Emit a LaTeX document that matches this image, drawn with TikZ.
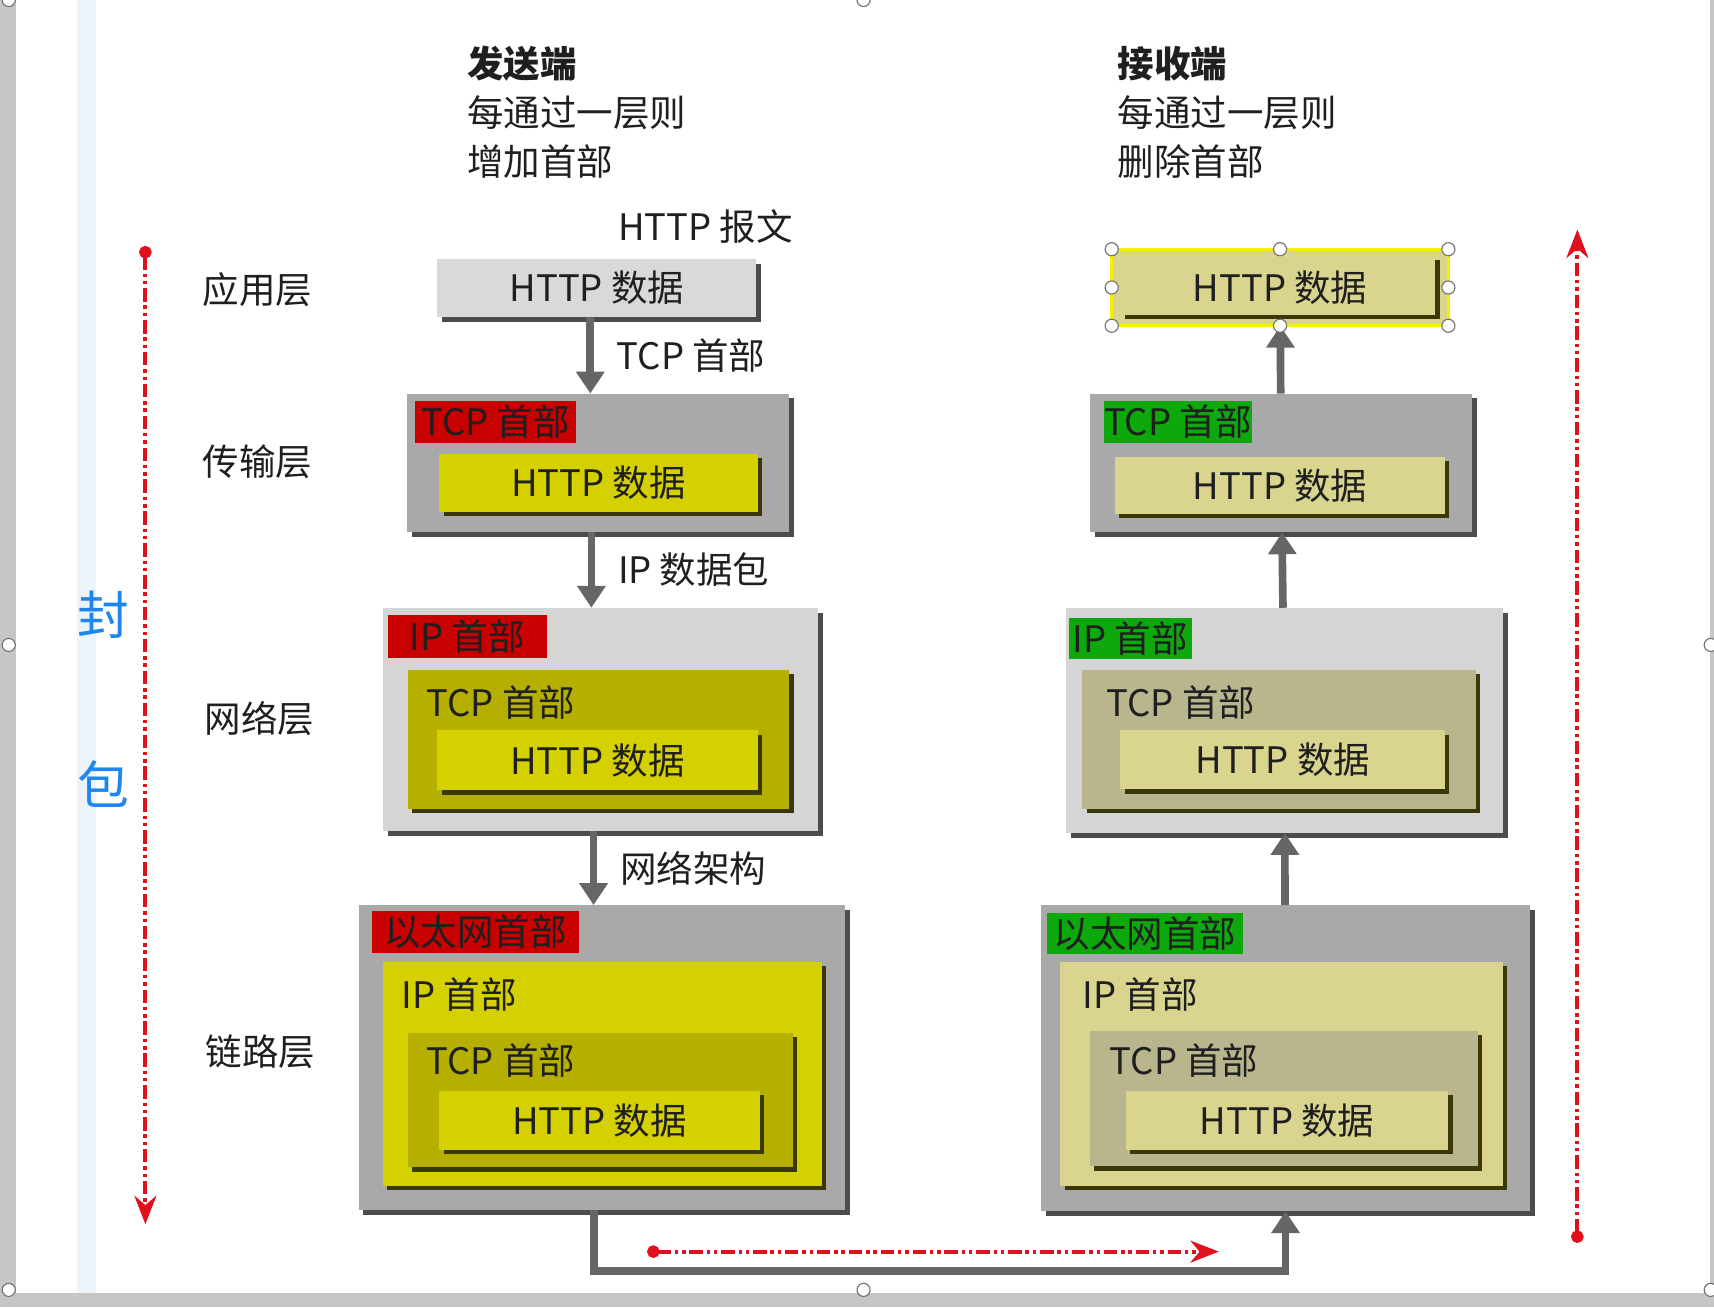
\documentclass[tikz,border=0pt]{standalone}
\usepackage{fontspec}
\setmainfont{Noto Sans CJK SC}
\usepackage{xcolor}
\usetikzlibrary{arrows.meta, shadows}

\definecolor{scrgray}{HTML}{C6C6C6}
\definecolor{scrblue}{HTML}{EDF3FA}
\definecolor{boxgray}{HTML}{A9A9A9}
\definecolor{boxlight}{HTML}{D5D5D5}
\definecolor{hdrred}{HTML}{C80000}
\definecolor{hdrgreen}{HTML}{0CA80C}
\definecolor{sndyel}{HTML}{D5D100}
\definecolor{sndolive}{HTML}{B5AF00}
\definecolor{rcvkhaki}{HTML}{D9D58F}
\definecolor{rcvdark}{HTML}{B9B68E}
\definecolor{selyel}{HTML}{F4F000}
\definecolor{shdgray}{HTML}{4C4C4C}
\definecolor{shdolive}{HTML}{3A3808}
\definecolor{encred}{HTML}{E0101C}
\definecolor{encblue}{HTML}{1E86EE}

\begin{document}
\begin{tikzpicture}[x=0.02cm, y=-0.02cm,
  font=\fontsize{19pt}{23pt}\selectfont, text=black!88,
  blk/.style={anchor=north west, inner sep=0pt, outer sep=0pt},
  gshd/.style={drop shadow={shadow xshift=0.09cm, shadow yshift=-0.09cm, fill=shdgray, opacity=1}},
  oshd/.style={drop shadow={shadow xshift=0.08cm, shadow yshift=-0.08cm, fill=shdolive, opacity=1}},
  outg/.style={blk, fill=boxgray, gshd},
  outl/.style={blk, fill=boxlight, gshd},
  redh/.style={blk, fill=hdrred},
  grnh/.style={blk, fill=hdrgreen},
  yel/.style={blk, fill=sndyel, oshd},
  olv/.style={blk, fill=sndolive, oshd},
  khk/.style={blk, fill=rcvkhaki, oshd},
  khd/.style={blk, fill=rcvdark, oshd},
  lbl/.style={anchor=west, inner sep=0pt},
  hdr/.style={anchor=west, inner sep=0pt, font=\fontsize{19pt}{23pt}\selectfont\bfseries},
  enc/.style={text=encblue, font=\fontsize{27pt}{30pt}\selectfont},
  flow/.style={line width=0.14cm, draw=black!60, -{Triangle[width=0.5cm, length=0.4cm]}},
  eflow/.style={line width=2.2pt, draw=encred,
    dash pattern=on 7pt off 2pt on 1.8pt off 2pt on 1.8pt off 2pt,
    {Circle[length=6.5pt]}-{Stealth[length=0.52cm, width=0.4cm]}},
  handle/.style={draw=black!55, fill=white, line width=0.6pt}]
  \useasboundingbox (0,0) rectangle (1568,1196);
  % screenshot frame
  \fill[scrgray] (0,0) rectangle (15,1196);
  \fill[scrblue] (70,0) rectangle (88,1183);
  \fill[scrgray] (0,1183) rectangle (1568,1196);
  \fill[scrgray] (1564,0) rectangle (1568,1196);

  % headings
  \node[hdr] (snd-t)  at (427,58)  {发送端};
  \node[lbl] (snd-t1) at (427,103) {每通过一层则};
  \node[lbl] (snd-t2) at (427,148) {增加首部};
  \node[hdr] (rcv-t)  at (1022,58)  {接收端};
  \node[lbl] (rcv-t1) at (1022,103) {每通过一层则};
  \node[lbl] (rcv-t2) at (1022,148) {删除首部};
  \node[lbl] (msg)    at (565,207)  {HTTP 报文};

  % layer names
  \node[lbl] (l-app) at (185,265) {应用层};
  \node[lbl] (l-tcp) at (185,422) {传输层};
  \node[lbl] (l-ip)  at (187,657) {网络层};
  \node[lbl] (l-eth) at (188,962) {链路层};

  % sender column
  \node[outl, minimum width=292*0.02cm, minimum height=53*0.02cm, fill=black!15] (s-app) at (400,237) {};
  \node at (s-app.center) (s-app-t) {HTTP 数据};

  \node[outg, minimum width=350*0.02cm, minimum height=127*0.02cm] (s-tcp) at (372,360) {};
  \node[redh, minimum width=147*0.02cm, minimum height=38*0.02cm] (s-tcph) at (380,367) {TCP 首部};
  \node[yel, minimum width=291*0.02cm, minimum height=53*0.02cm] (s-tcpd) at (402,415) {HTTP 数据};

  \node[outl, minimum width=398*0.02cm, minimum height=204*0.02cm] (s-ip) at (350,556) {};
  \node[redh, minimum width=145*0.02cm, minimum height=39*0.02cm] (s-iph) at (355,563) {IP 首部};
  \node[olv, minimum width=349*0.02cm, minimum height=127*0.02cm] (s-ipt) at (373,613) {};
  \node[lbl] (s-ipt-l) at (390,643) {TCP 首部};
  \node[yel, minimum width=293*0.02cm, minimum height=55*0.02cm] (s-ipd) at (400,668) {HTTP 数据};

  \node[outg, minimum width=445*0.02cm, minimum height=279*0.02cm] (s-eth) at (328,828) {};
  \node[redh, minimum width=190*0.02cm, minimum height=39*0.02cm] (s-ethh) at (340,833) {以太网首部};
  \node[yel, minimum width=402*0.02cm, minimum height=205*0.02cm] (s-ethi) at (350,880) {};
  \node[lbl] (s-ethi-l) at (367,910) {IP 首部};
  \node[olv, minimum width=352*0.02cm, minimum height=123*0.02cm] (s-etht) at (373,945) {};
  \node[lbl] (s-etht-l) at (390,970) {TCP 首部};
  \node[yel, minimum width=293*0.02cm, minimum height=54*0.02cm] (s-ethd) at (402,998) {HTTP 数据};

  % receiver column
  \node[blk, fill=rcvkhaki, draw=selyel, line width=1.5pt, minimum width=308*0.02cm, minimum height=70*0.02cm] (r-app) at (1017,228) {};
  \node at (r-app.center) (r-app-t) {HTTP 数据};
  \draw[line width=0.09cm, shdolive] ([shift={(-10,10)}]r-app.north east) -- ([shift={(-10,-8)}]r-app.south east) -- ([shift={(12,-8)}]r-app.south west);

  \node[outg, minimum width=350*0.02cm, minimum height=127*0.02cm] (r-tcp) at (997,360) {};
  \node[grnh, minimum width=135*0.02cm, minimum height=38*0.02cm] (r-tcph) at (1010,367) {TCP 首部};
  \node[khk, minimum width=302*0.02cm, minimum height=52*0.02cm] (r-tcpd) at (1020,418) {HTTP 数据};

  \node[outl, minimum width=400*0.02cm, minimum height=206*0.02cm] (r-ip) at (975,556) {};
  \node[grnh, minimum width=112*0.02cm, minimum height=38*0.02cm] (r-iph) at (978,565) {IP 首部};
  \node[khd, minimum width=360*0.02cm, minimum height=127*0.02cm] (r-ipt) at (990,613) {};
  \node[lbl] (r-ipt-l) at (1012,643) {TCP 首部};
  \node[khk, minimum width=297*0.02cm, minimum height=54*0.02cm] (r-ipd) at (1025,668) {HTTP 数据};

  \node[outg, minimum width=448*0.02cm, minimum height=280*0.02cm] (r-eth) at (952,828) {};
  \node[grnh, minimum width=179*0.02cm, minimum height=38*0.02cm] (r-ethh) at (958,835) {以太网首部};
  \node[khk, minimum width=405*0.02cm, minimum height=205*0.02cm] (r-ethi) at (970,880) {};
  \node[lbl] (r-ethi-l) at (990,910) {IP 首部};
  \node[khd, minimum width=355*0.02cm, minimum height=124*0.02cm] (r-etht) at (997,943) {};
  \node[lbl] (r-etht-l) at (1015,970) {TCP 首部};
  \node[khk, minimum width=295*0.02cm, minimum height=54*0.02cm] (r-ethd) at (1030,998) {HTTP 数据};

  % data flow down / up
  \draw[flow] ([xshift=-0.12cm]s-app.south) -- node[right=0.3cm] (a1) {TCP 首部} ([xshift=-0.12cm]s-app.south |- s-tcp.north);
  \draw[flow] ([xshift=-0.12cm]s-tcp.south) -- node[right=0.3cm] (a2) {IP 数据包} ([xshift=-0.12cm]s-tcp.south |- s-ip.north);
  \draw[flow] ([xshift=-0.12cm]s-ip.south) -- node[right=0.3cm] (a3) {网络架构} ([xshift=-0.12cm]s-ip.south |- s-eth.north);
  \draw[flow] ([xshift=-0.14cm]s-eth.south) -- ++(0,56) -| (r-eth.south);
  \draw[flow] (r-eth) -- (r-ip);
  \draw[flow] (r-ip) -- (r-tcp);
  \draw[flow] (r-tcp) -- (r-app);

  % encapsulation arrows
  \coordinate (e-top) at (133,225); \coordinate (e-bot) at (133,1120);
  \coordinate (d-bot) at (1443,1137); \coordinate (d-top) at (1443,210);
  \coordinate (w-l) at (592,1145); \coordinate (w-r) at (1115,1145);
  \draw[eflow] (e-top) -- (e-bot);
  \draw[eflow] (d-bot) -- (d-top);
  \draw[eflow] (w-l) -- (w-r);
  \node[enc] (enc1) at (95,562) {封};
  \node[enc] (enc2) at (95,717) {包};

  % selection handles
  \foreach \a in {north west, north, north east, west, east, south west, south, south east}
    \draw[handle] (r-app.\a) circle[radius=0.12cm];
  \foreach \p in {(8,0), (790,0), (8,590), (1565,590), (8,1180), (790,1180), (1565,1180)}
    \draw[handle] \p circle[radius=0.12cm];
\end{tikzpicture}
\end{document}
